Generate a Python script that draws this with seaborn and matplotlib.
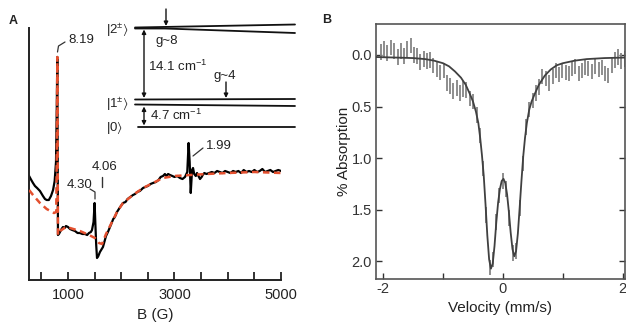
import numpy as np
import pandas as pd
import matplotlib
matplotlib.use("Agg")
import matplotlib.pyplot as plt
import seaborn as sns
from matplotlib.ticker import FixedLocator, FixedFormatter

# ---------------- Panel A: EPR spectrum (field in G, signal in arb. units) ----------------
epr_field = [270, 300, 343, 380, 420, 474, 530, 568, 600, 640, 681, 720, 750, 775, 790, 800,
             812, 830, 850, 880, 906, 940, 962, 1000, 1038, 1080, 1131, 1180, 1225, 1270, 1319,
             1360, 1394, 1430, 1451, 1480, 1500, 1515, 1530, 1545, 1570, 1600, 1657, 1714, 1750,
             1789, 1850, 1880, 1920, 1980, 2033, 2080, 2120, 2170, 2221, 2260, 2300, 2350, 2409,
             2450, 2500, 2550, 2596, 2650, 2700, 2740, 2784, 2820, 2850, 2880, 2916, 2960, 3000,
             3050, 3103, 3150, 3197, 3240, 3265, 3285, 3305, 3330, 3348, 3370, 3400, 3423, 3450,
             3479, 3510, 3530, 3560, 3600, 3650, 3700, 3750, 3800, 3850, 3900, 3950, 4000, 4050,
             4100, 4150, 4200, 4250, 4300, 4350, 4400, 4450, 4500, 4550, 4600, 4650, 4700, 4750,
             4800, 4850, 4900, 4950, 5000]
epr_signal = [104, 101, 97, 94, 92, 89, 84, 81, 80, 80, 84, 90, 99, 118, 175, 223,
              45, 46, 48, 51, 53, 52, 54, 53, 51, 50, 49, 47, 47, 46, 46,
              45, 47, 48, 50, 58, 77, 55, 35, 22, 24, 28, 33, 44, 48,
              53, 61, 63, 68, 73, 77, 78, 81, 83, 85, 86, 88, 89, 92,
              93, 94, 96, 97, 98, 100, 103, 104, 106, 104, 106, 105, 104, 103,
              104, 102, 101, 103, 108, 137, 118, 87, 110, 112, 106, 104, 107, 104,
              101, 103, 105, 107, 106, 107, 108, 107, 109, 108, 107, 109, 108, 107,
              109, 108, 109, 107, 110, 108, 109, 108, 110, 108, 109, 111, 108, 109,
              110, 108, 109, 110, 109]

sim_field = [270, 343, 474, 600, 737, 780, 790, 800, 812, 850, 962, 1038, 1225, 1394, 1507,
             1582, 1640, 1714, 1789, 1920, 2033, 2221, 2409, 2596, 2784, 3000, 3300, 3600,
             4000, 4500, 5000]
sim_signal = [90, 85, 77, 71, 67, 68, 130, 223, 45, 49, 53, 52, 49, 45, 42,
              37, 36, 46, 54, 68, 77, 85, 92, 97, 102, 104, 105, 106,
              107, 108, 107]

epr_ticks = [500, 1000, 1500, 2000, 2500, 3000, 3500, 4000, 4500, 5000]
epr_ticklabels = ["", "1000", "", "", "", "3000", "", "", "", "5000"]
g_labels = ["8.19", "4.30", "4.06", "1.99"]

# ---------------- Panel B: Mossbauer spectrum ----------------
velocity = [-2.04, -1.98, -1.93, -1.87, -1.82, -1.76, -1.71, -1.65, -1.60, -1.54, -1.49, -1.43,
            -1.38, -1.32, -1.27, -1.21, -1.16, -1.10, -1.05, -0.99, -0.94, -0.88, -0.83, -0.77,
            -0.72, -0.66, -0.61, -0.55, -0.50, -0.44, -0.39, -0.33, -0.28, -0.22, -0.17, -0.11,
            -0.06, 0.00, 0.06, 0.11, 0.17, 0.22, 0.28, 0.33, 0.39, 0.44, 0.50, 0.55, 0.61, 0.66,
            0.72, 0.77, 0.83, 0.88, 0.94, 0.99, 1.05, 1.10, 1.16, 1.21, 1.27, 1.32, 1.38, 1.43,
            1.49, 1.54, 1.60, 1.65, 1.71, 1.76, 1.82, 1.87, 1.93, 1.98, 2.04]
absorption = [-0.03, -0.06, -0.02, -0.07, -0.04, 0.02, -0.04, 0.01, -0.06, -0.09, 0.00, 0.01,
              0.07, 0.04, 0.06, 0.05, 0.10, 0.14, 0.17, 0.15, 0.27, 0.30, 0.35, 0.32,
              0.37, 0.33, 0.34, 0.42, 0.45, 0.58, 0.78, 1.10, 1.55, 2.06, 1.98, 1.62,
              1.36, 1.22, 1.30, 1.58, 1.92, 1.90, 1.48, 1.05, 0.70, 0.53, 0.44, 0.37, 0.31, 0.21,
              0.23, 0.27, 0.21, 0.15, 0.19, 0.15, 0.17, 0.18, 0.13, 0.11, 0.18, 0.15, 0.12, 0.13,
              0.16, 0.11, 0.14, 0.12, 0.18, 0.20, 0.10, 0.05, 0.02, 0.06, 0.04]
absorption_err = 0.075

fit_velocity = [-2.12, -1.8, -1.5, -1.3, -1.15, -1.0, -0.9, -0.8, -0.7, -0.62, -0.55, -0.5,
                -0.45, -0.41, -0.38, -0.35, -0.32, -0.29, -0.26, -0.23, -0.2, -0.17, -0.14,
                -0.11, -0.08, -0.05, -0.02, 0.01, 0.04, 0.07, 0.10, 0.13, 0.16, 0.19, 0.22,
                0.25, 0.28, 0.31, 0.34, 0.37, 0.40, 0.44, 0.48, 0.53, 0.6, 0.7, 0.8, 0.9,
                1.0, 1.2, 1.4, 1.7, 2.04]
fit_absorption = [0.02, 0.025, 0.03, 0.04, 0.055, 0.08, 0.11, 0.16, 0.22, 0.29, 0.38, 0.45,
                  0.55, 0.66, 0.80, 0.97, 1.17, 1.45, 1.75, 1.98, 2.07, 2.02, 1.85,
                  1.62, 1.43, 1.30, 1.22, 1.20, 1.24, 1.35, 1.52, 1.72, 1.88, 1.95, 1.90,
                  1.73, 1.48, 1.22, 0.98, 0.80, 0.66, 0.53, 0.45, 0.38, 0.29, 0.20, 0.14, 0.10,
                  0.08, 0.055, 0.04, 0.03, 0.025]

mb_xticks = [-2, -1, 0, 1, 2]
mb_xticklabels = ["-2", "", "0", "", "2"]
mb_yticks = [0.0, 0.5, 1.0, 1.5, 2.0]

# ---------------- styling ----------------
sns.set_style("ticks")
plt.rcParams["font.family"] = ["Liberation Sans", "DejaVu Sans"]
plt.rcParams["mathtext.fontset"] = "custom"
plt.rcParams["mathtext.rm"] = "Liberation Sans"
plt.rcParams["mathtext.it"] = "Liberation Sans"
plt.rcParams["mathtext.default"] = "regular"

fig = plt.figure(figsize=(6.26, 3.26), dpi=100)
W, H = 626.0, 326.0

def box(l, t, r, b):
    return [l / W, 1 - b / H, (r - l) / W, (b - t) / H]

# ---- Panel A ----
axA = fig.add_axes(box(29, 28, 281, 280))
dfA = pd.DataFrame({"field": epr_field, "signal": epr_signal})
dfS = pd.DataFrame({"field": sim_field, "signal": sim_signal})
sns.lineplot(data=dfA, x="field", y="signal", ax=axA, color="black", lw=1.6,
             estimator=None, sort=False)
sns.lineplot(data=dfS, x="field", y="signal", ax=axA, color="#e4502f", lw=1.8,
             estimator=None, sort=False, linestyle=(0, (2.6, 1.8)), zorder=3)
axA.set_xlim(268, 5000)
axA.set_ylim(0, 252)
axA.xaxis.set_major_locator(FixedLocator(epr_ticks))
axA.xaxis.set_major_formatter(FixedFormatter(epr_ticklabels))
axA.set_yticks([])
axA.tick_params(axis="x", direction="in", length=6, width=1.3, labelsize=10.5, pad=6,
                colors="#222222")
for s in ["top", "right"]:
    axA.spines[s].set_visible(False)
for s in ["left", "bottom"]:
    axA.spines[s].set_linewidth(1.4)
    axA.spines[s].set_color("#222222")
axA.set_xlabel("B (G)", fontsize=11, labelpad=4, color="#222222")
axA.set_ylabel("")

# ---- Panel B ----
axB = fig.add_axes(box(376, 24, 625, 279))
axB.errorbar(velocity, absorption, yerr=absorption_err, fmt="none", ecolor="#858585",
             elinewidth=1.3, capsize=0, zorder=2)
dfF = pd.DataFrame({"v": fit_velocity, "a": fit_absorption})
sns.lineplot(data=dfF, x="v", y="a", ax=axB, color="#404040", lw=1.3,
             estimator=None, sort=False, zorder=3)
axB.set_xlim(-2.12, 2.04)
axB.set_ylim(2.17, -0.30)
axB.xaxis.set_major_locator(FixedLocator(mb_xticks))
axB.xaxis.set_major_formatter(FixedFormatter(mb_xticklabels))
axB.yaxis.set_major_locator(FixedLocator(mb_yticks))
axB.yaxis.set_major_formatter(FixedFormatter([f"{v:.1f}" for v in mb_yticks]))
axB.tick_params(axis="x", direction="in", length=4, width=1.0, labelsize=10.5, pad=2,
                colors="#333333")
axB.tick_params(axis="y", direction="in", length=4, width=1.0, labelsize=10.5, pad=3,
                right=True, colors="#333333")
for s in axB.spines.values():
    s.set_linewidth(1.2)
    s.set_color("#555555")
axB.set_xlabel("Velocity (mm/s)", fontsize=11, labelpad=4, color="#222222")
axB.set_ylabel("% Absorption", fontsize=11, labelpad=0, color="#222222")

# ---- overlay for annotations and energy-level diagram ----
ov = fig.add_axes([0, 0, 1, 1], facecolor="none")
ov.set_xlim(0, W)
ov.set_ylim(H, 0)
ov.axis("off")

tc = "#222222"
ov.text(13, 21, "A", fontsize=9, fontweight="bold", ha="center", va="center", color=tc)
ov.text(327, 20, "B", fontsize=9, fontweight="bold", ha="center", va="center", color=tc)

# g-value labels
ov.plot([57.5, 58.5, 65], [52, 46, 42], color="#333333", lw=0.9)
ov.text(68, 40, g_labels[0], fontsize=9.5, ha="left", va="center", color=tc)
ov.plot([90, 95, 95], [189, 192, 199], color="#333333", lw=0.9)
ov.text(67, 185, g_labels[1], fontsize=9.5, ha="left", va="center", color=tc)
ov.text(92, 167, g_labels[2], fontsize=9.5, ha="left", va="center", color=tc)
ov.plot([102, 102], [177, 187], color="#333333", lw=1.0)
ov.plot([193, 203], [156, 148], color="#333333", lw=0.9)
ov.text(206, 146, g_labels[3], fontsize=9.5, ha="left", va="center", color=tc)

# energy levels
lc = "#111111"
ov.plot([135, 295], [27.5, 24.5], color=lc, lw=1.3)
ov.plot([135, 165, 295], [28.5, 28.5, 33], color=lc, lw=1.3)
ov.plot([135, 295], [99.5, 99], color=lc, lw=1.3)
ov.plot([135, 295], [104.5, 106], color=lc, lw=1.3)
ov.plot([138, 295], [127, 127], color=lc, lw=1.3)
ov.text(106, 30, r"$|2^{\pm}\rangle$", fontsize=9.5, ha="left", va="center", color=tc)
ov.text(106, 104, r"$|1^{\pm}\rangle$", fontsize=9.5, ha="left", va="center", color=tc)
ov.text(106, 128, r"$|0\rangle$", fontsize=9.5, ha="left", va="center", color=tc)

aprops = dict(arrowstyle="<|-|>", lw=1.0, color=lc, mutation_scale=6, shrinkA=0, shrinkB=0)
ov.annotate("", xy=(144, 29.5), xytext=(144, 98), arrowprops=aprops)
ov.annotate("", xy=(144, 106.5), xytext=(144, 125.5), arrowprops=aprops)
dprops = dict(arrowstyle="-|>", lw=1.0, color=lc, mutation_scale=6, shrinkA=0, shrinkB=0)
ov.annotate("", xy=(166, 26), xytext=(166, 9), arrowprops=dprops)
ov.annotate("", xy=(226, 98), xytext=(226, 82), arrowprops=dprops)

ov.text(148, 66, r"14.1 cm$^{-1}$", fontsize=9.5, ha="left", va="center", color=tc)
ov.text(150, 115, r"4.7 cm$^{-1}$", fontsize=9.5, ha="left", va="center", color=tc)
ov.text(155, 41, "g~8", fontsize=9.5, ha="left", va="center", color=tc)
ov.text(213, 76, "g~4", fontsize=9.5, ha="left", va="center", color=tc)

fig.savefig("out.png", dpi=100)
